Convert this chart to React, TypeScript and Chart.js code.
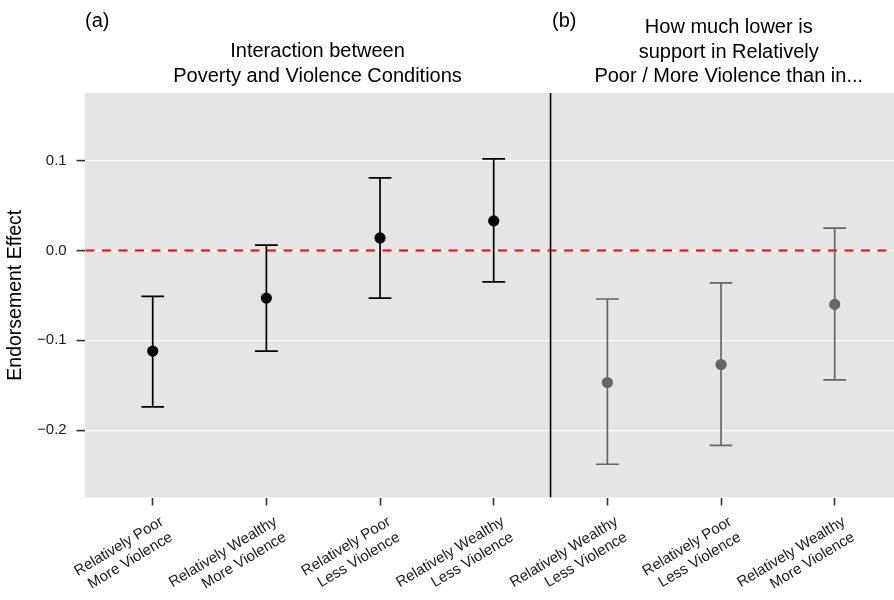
import React, { useEffect, useRef } from 'react';
import { Chart, registerables } from 'chart.js';

Chart.register(...registerables);

const FONT = '"Liberation Sans", Arial, Helvetica, sans-serif';

// ---- data ----
const categories: string[][] = [
  ['Relatively Poor', 'More Violence'],
  ['Relatively Wealthy', 'More Violence'],
  ['Relatively Poor', 'Less Violence'],
  ['Relatively Wealthy', 'Less Violence'],
  ['Relatively Wealthy', 'Less Violence'],
  ['Relatively Poor', 'Less Violence'],
  ['Relatively Wealthy', 'More Violence'],
];
const xPositions = [1, 2, 3, 4, 5, 6, 7];
const panelOf = ['a', 'a', 'a', 'a', 'b', 'b', 'b'];
const estimates = [-0.112, -0.053, 0.014, 0.033, -0.147, -0.127, -0.06];
const lowerBounds = [-0.174, -0.112, -0.053, -0.035, -0.238, -0.217, -0.144];
const upperBounds = [-0.051, 0.006, 0.081, 0.102, -0.054, -0.036, 0.025];
const yTickValues = [-0.2, -0.1, 0, 0.1];
const yTickLabels = ['\u22120.2', '\u22120.1', '0.0', '0.1'];
const tagA = '(a)';
const tagB = '(b)';
const titleA = ['Interaction between', 'Poverty and Violence Conditions'];
const titleB = ['How much lower is', 'support in Relatively', 'Poor / More Violence than in...'];
const yAxisTitle = 'Endorsement Effect';
const separatorX = 4.5;
const referenceY = 0;

const COLOR_A = '#000000';
const COLOR_B = '#666666';

const decorPlugin = {
  id: 'decor',
  beforeDraw(chart: any) {
    const { ctx, chartArea: a } = chart;
    ctx.save();
    ctx.fillStyle = '#e5e5e5';
    ctx.fillRect(a.left, a.top, a.right - a.left, a.bottom - a.top);
    ctx.restore();
  },
  beforeDatasetsDraw(chart: any) {
    const { ctx, chartArea: a } = chart;
    const xs = chart.scales.x;
    const ys = chart.scales.y;
    ctx.save();
    ctx.beginPath();
    ctx.rect(a.left, a.top, a.right - a.left, a.bottom - a.top);
    ctx.clip();
    // red dashed reference line
    const y0 = ys.getPixelForValue(referenceY);
    ctx.strokeStyle = '#ff0000';
    ctx.lineWidth = 2;
    ctx.setLineDash([9, 7.5]);
    ctx.beginPath();
    ctx.moveTo(a.left + 1, y0);
    ctx.lineTo(a.right, y0);
    ctx.stroke();
    ctx.setLineDash([]);
    // separator
    const sx = xs.getPixelForValue(separatorX);
    ctx.strokeStyle = '#000';
    ctx.lineWidth = 1.6;
    ctx.beginPath();
    ctx.moveTo(sx, a.top);
    ctx.lineTo(sx, a.bottom);
    ctx.stroke();
    // error bars
    for (let i = 0; i < xPositions.length; i++) {
      const col = panelOf[i] === 'a' ? COLOR_A : COLOR_B;
      const x = xs.getPixelForValue(xPositions[i]);
      const xl = xs.getPixelForValue(xPositions[i] - 0.1);
      const xr = xs.getPixelForValue(xPositions[i] + 0.1);
      const yl = ys.getPixelForValue(lowerBounds[i]);
      const yu = ys.getPixelForValue(upperBounds[i]);
      ctx.strokeStyle = col;
      ctx.lineWidth = 1.7;
      ctx.beginPath();
      ctx.moveTo(x, yl);
      ctx.lineTo(x, yu);
      ctx.moveTo(xl, yl);
      ctx.lineTo(xr, yl);
      ctx.moveTo(xl, yu);
      ctx.lineTo(xr, yu);
      ctx.stroke();
    }
    ctx.restore();
  },
  afterDraw(chart: any) {
    const { ctx, chartArea: a } = chart;
    const xs = chart.scales.x;
    ctx.save();
    ctx.fillStyle = '#000';
    ctx.font = `20px ${FONT}`;
    ctx.textBaseline = 'alphabetic';
    ctx.textAlign = 'left';
    const sx = xs.getPixelForValue(separatorX);
    ctx.fillText(tagA, a.left + 0.5, 27);
    ctx.fillText(tagB, sx + 1.5, 27);
    ctx.textAlign = 'center';
    const cA = (a.left + sx) / 2;
    const rightFull = xs.getPixelForValue(xPositions[xPositions.length - 1] + 0.6);
    const cB = (sx + rightFull) / 2 + 2;
    const baseA = [57, 82];
    titleA.forEach((t, i) => ctx.fillText(t, cA, baseA[i]));
    const baseB = [33, 57.5, 82];
    titleB.forEach((t, i) => ctx.fillText(t, cB, baseB[i]));

    // x tick labels (rotated, right aligned)
    const fs = 15;
    ctx.font = `${fs}px ${FONT}`;
    ctx.fillStyle = '#1a1a1a';
    ctx.textAlign = 'right';
    const capH = fs * 0.716;
    const lh = 18;
    const ang = (31 * Math.PI) / 180;
    for (let i = 0; i < xPositions.length; i++) {
      const X = xs.getPixelForValue(xPositions[i]);
      ctx.save();
      ctx.translate(X + 6, 515);
      ctx.rotate(-ang);
      categories[i].forEach((line, j) => ctx.fillText(line, 0, capH + j * lh));
      ctx.restore();
    }
    ctx.restore();
  },
};

export default function App() {
  const ref = useRef<HTMLCanvasElement | null>(null);
  useEffect(() => {
    if (!ref.current) return;
    const dataA: any[] = [];
    const dataB: any[] = [];
    xPositions.forEach((x, i) => {
      (panelOf[i] === 'a' ? dataA : dataB).push({ x, y: estimates[i] });
    });
    const chart = new Chart(ref.current, {
      type: 'scatter',
      data: {
        datasets: [
          { data: dataA, backgroundColor: COLOR_A, borderWidth: 0, pointRadius: 5.6, pointHoverRadius: 5.6 },
          { data: dataB, backgroundColor: COLOR_B, borderWidth: 0, pointRadius: 5.6, pointHoverRadius: 5.6 },
        ],
      },
      options: {
        animation: false,
        responsive: false,
        devicePixelRatio: 1,
        events: [],
        layout: { autoPadding: false, padding: { top: 93, left: 0, right: 0, bottom: 0 } },
        plugins: { legend: { display: false }, tooltip: { enabled: false }, title: { display: false } },
        scales: {
          x: {
            type: 'linear',
            min: 0.4,
            max: 7.5216,
            afterBuildTicks: (s: any) => {
              s.ticks = xPositions.map((v) => ({ value: v }));
            },
            afterFit: (s: any) => {
              s.height = 102.5;
              s.paddingLeft = 0;
              s.paddingRight = 0;
            },
            ticks: { display: false },
            grid: {
              drawOnChartArea: false,
              drawTicks: true,
              tickLength: 8,
              tickColor: '#333333',
              tickWidth: 1.6,
              color: '#333333',
            },
            border: { display: false },
          },
          y: {
            type: 'linear',
            min: -0.275,
            max: 0.1754,
            afterBuildTicks: (s: any) => {
              s.ticks = yTickValues.map((v) => ({ value: v }));
            },
            afterFit: (s: any) => {
              s.width = 84.5;
              s.paddingTop = 0;
              s.paddingBottom = 0;
            },
            ticks: {
              padding: 9.8,
              color: '#1a1a1a',
              font: { family: FONT, size: 15 },
              callback: (v: any) => {
                const idx = yTickValues.findIndex((t) => Math.abs(t - Number(v)) < 1e-9);
                return idx >= 0 ? yTickLabels[idx] : '';
              },
            },
            grid: {
              color: '#ffffff',
              lineWidth: 1.2,
              drawTicks: true,
              tickLength: 8,
              tickColor: '#333333',
              tickWidth: 1.6,
            },
            border: { display: false },
            title: {
              display: true,
              text: yAxisTitle,
              color: '#000',
              font: { family: FONT, size: 19.5 },
              padding: { top: 4, bottom: 0 },
            },
          },
        },
      },
      plugins: [decorPlugin],
    } as any);
    return () => chart.destroy();
  }, []);
  return (
    <div style={{ position: 'fixed', left: 0, top: 0, width: 894, height: 600, background: '#fff' }}>
      <canvas ref={ref} width={894} height={600} style={{ display: 'block' }} />
    </div>
  );
}
